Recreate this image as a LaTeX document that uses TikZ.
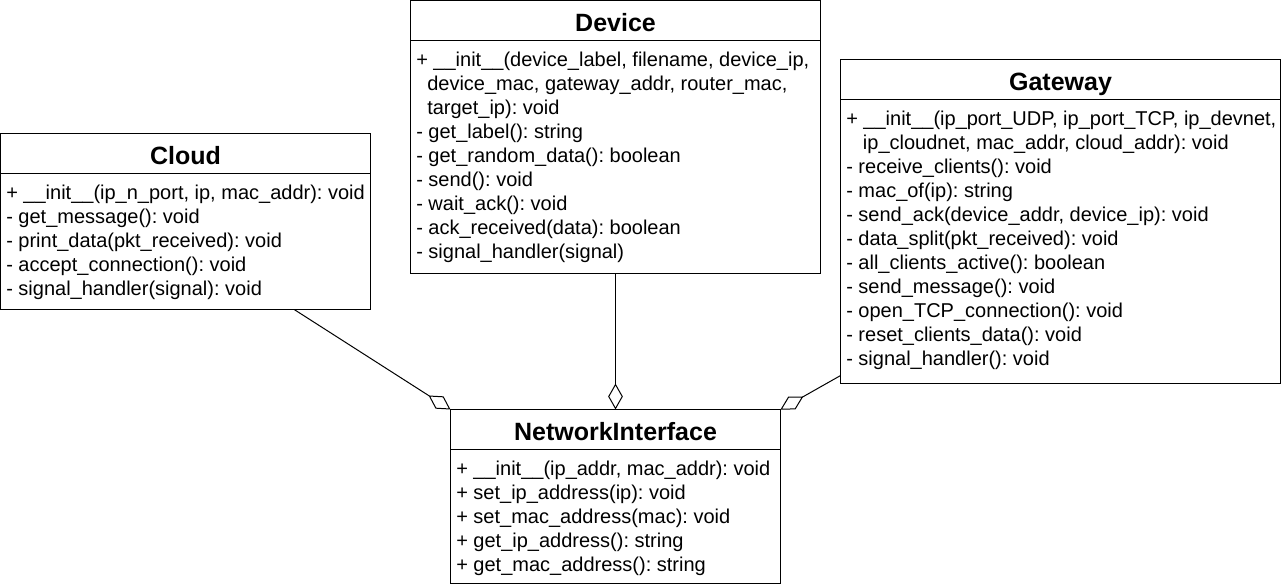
\documentclass[tikz,border=0pt]{standalone}
\usepackage{fontspec}
\setmainfont{Liberation Sans}
\usetikzlibrary{arrows.meta}
\frenchspacing

\tikzset{
  classbox/.style={draw,line width=0.75pt,inner sep=0pt,outer sep=0pt,anchor=north west},
  classname/.style={font=\fontsize{18.75}{22}\selectfont\bfseries,anchor=base},
  member/.style={font=\fontsize{15}{18}\selectfont,anchor=base west,inner sep=0pt},
  aggr/.style={line width=0.75pt,-{Diamond[open,length=19.5pt,width=11pt]}},
}

\begin{document}
\begin{tikzpicture}[x=0.75pt,y=-0.75pt]
  \useasboundingbox (0,0) rectangle (1281,587);
  % class boxes
  \node[classbox,minimum width=370*0.75pt,minimum height=176*0.75pt] (cloud) at (0.5,133.5){};
  \node[classbox,minimum width=410*0.75pt,minimum height=273*0.75pt] (device) at (410.5,0.5){};
  \node[classbox,minimum width=440*0.75pt,minimum height=324*0.75pt] (gateway) at (840.5,59.5){};
  \node[classbox,minimum width=330*0.75pt,minimum height=174*0.75pt] (netif) at (450.5,409.5){};
  \foreach \b in {cloud,device,gateway,netif}
    \draw[line width=0.75pt] ([yshift=-30pt]\b.north west)--([yshift=-30pt]\b.north east);

  % names
  \node[classname] (cloud-name) at ([yshift=-23.25pt]cloud.north){Cloud};
  \node[classname] (device-name) at ([yshift=-23.25pt]device.north){Device};
  \node[classname] (gateway-name) at ([yshift=-23.25pt]gateway.north){Gateway};
  \node[classname] (netif-name) at ([yshift=-23.25pt]netif.north){NetworkInterface};

  % members
  \foreach \m [count=\i from 0] in {
    {+ \_\_init\_\_(ip\_n\_port, ip, mac\_addr): void},
    {- get\_message(): void},
    {- print\_data(pkt\_received): void},
    {- accept\_connection(): void},
    {- signal\_handler(signal): void}}
    \node[member] (cloud-m\i) at (6,199.5+24*\i){\m};
  \foreach \m [count=\i from 0] in {
    {+ \_\_init\_\_(device\_label, filename, device\_ip,},
    {\hspace{8.25pt}device\_mac, gateway\_addr, router\_mac,},
    {\hspace{8.25pt}target\_ip): void},
    {- get\_label(): string},
    {- get\_random\_data(): boolean},
    {- send(): void},
    {- wait\_ack(): void},
    {- ack\_received(data): boolean},
    {- signal\_handler(signal)}}
    \node[member] (device-m\i) at (416,66.5+24*\i){\m};
  \foreach \m [count=\i from 0] in {
    {+ \_\_init\_\_(ip\_port\_UDP, ip\_port\_TCP, ip\_devnet,},
    {\hspace{12.5pt}ip\_cloudnet, mac\_addr, cloud\_addr): void},
    {- receive\_clients(): void},
    {- mac\_of(ip): string},
    {- send\_ack(device\_addr, device\_ip): void},
    {- data\_split(pkt\_received): void},
    {- all\_clients\_active(): boolean},
    {- send\_message(): void},
    {- open\_TCP\_connection(): void},
    {- reset\_clients\_data(): void},
    {- signal\_handler(): void}}
    \node[member] (gateway-m\i) at (846,125.5+24*\i){\m};
  \foreach \m [count=\i from 0] in {
    {+ \_\_init\_\_(ip\_addr, mac\_addr): void},
    {+ set\_ip\_address(ip): void},
    {+ set\_mac\_address(mac): void},
    {+ get\_ip\_address(): string},
    {+ get\_mac\_address(): string}}
    \node[member] (netif-m\i) at (456,475.5+24*\i){\m};

  % aggregations
  \draw[aggr] (cloud.-39)--(netif.north west);
  \draw[aggr] (device.south)--(netif.north);
  \draw[aggr] (gateway.215)--(netif.north east);
\end{tikzpicture}
\end{document}
